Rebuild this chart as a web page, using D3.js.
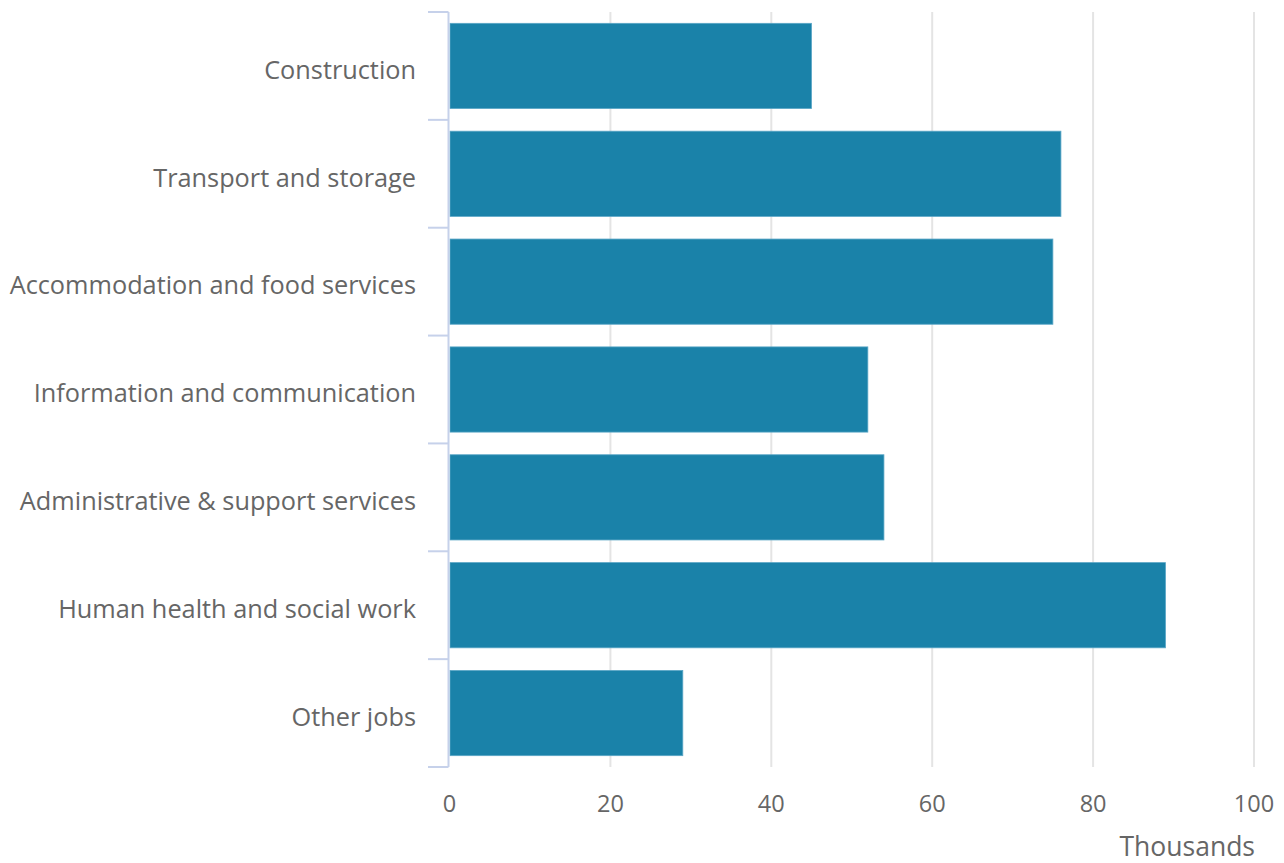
<!DOCTYPE html>
<html><head><meta charset="utf-8">
<script src="https://cdn.jsdelivr.net/npm/d3@7"></script>
<style>body{margin:0;background:#fff;font-family:"Open Sans",sans-serif;}</style>
</head><body><svg id="c" width="1284" height="863"></svg>
<script>
const categories = ["Construction","Transport and storage","Accommodation and food services","Information and communication","Administrative & support services","Human health and social work","Other jobs"];
const values = [45, 76, 75, 52, 54, 89, 29];
const xTicks = [0, 20, 40, 60, 80, 100];
const xTitle = "Thousands";

const svg = d3.select("#c");
const m = {left: 449.5, right: 1254, top: 12, bottom: 767};
const x = d3.scaleLinear().domain([0, 100]).range([m.left, m.right]);
const y = d3.scaleBand().domain(categories).range([m.top, m.bottom]).paddingInner(0.21).paddingOuter(0.105);

// gridlines
svg.append("g").selectAll("line").data(xTicks.filter(d => d > 0)).join("line")
  .attr("x1", d => x(d)).attr("x2", d => x(d))
  .attr("y1", m.top).attr("y2", m.bottom)
  .attr("stroke", "#e4e4e4").attr("stroke-width", 2);

// bars
svg.append("g").selectAll("rect").data(values).join("rect")
  .attr("x", x(0) + 0.5).attr("y", (d, i) => y(categories[i]))
  .attr("width", d => x(d) - x(0) - 0.5).attr("height", y.bandwidth())
  .attr("fill", "#1a82a9").attr("stroke", "#5aa6c6").attr("stroke-width", 0.8);

// y axis line and band-boundary ticks
const bounds = categories.map(c => y(c) - y.step() * y.paddingInner() / 2);
bounds.push(m.bottom);
bounds[0] = m.top;
const ax = svg.append("g");
ax.append("line").attr("x1", m.left - 1).attr("x2", m.left - 1).attr("y1", m.top).attr("y2", m.bottom)
  .attr("stroke", "#c6d1ea").attr("stroke-width", 2);
ax.selectAll("line.t").data(bounds).join("line").attr("class", "t")
  .attr("x1", 428).attr("x2", m.left - 1).attr("y1", d => d).attr("y2", d => d)
  .attr("stroke", "#c6d1ea").attr("stroke-width", 2);

// category labels
svg.append("g").selectAll("text").data(categories).join("text")
  .attr("x", 416).attr("y", d => y(d) + y.bandwidth() / 2 + 4)
  .attr("dy", "0.35em").attr("text-anchor", "end")
  .attr("font-size", 25.3).attr("fill", "#666").text(d => d);

// x tick labels
svg.append("g").selectAll("text").data(xTicks).join("text")
  .attr("x", d => x(d)).attr("y", 812).attr("text-anchor", "middle")
  .attr("font-size", 23.5).attr("fill", "#666").text(d => d);

svg.append("text").attr("x", 1255).attr("y", 856).attr("text-anchor", "end")
  .attr("font-size", 26.5).attr("fill", "#666").text(xTitle);
</script></body></html>
